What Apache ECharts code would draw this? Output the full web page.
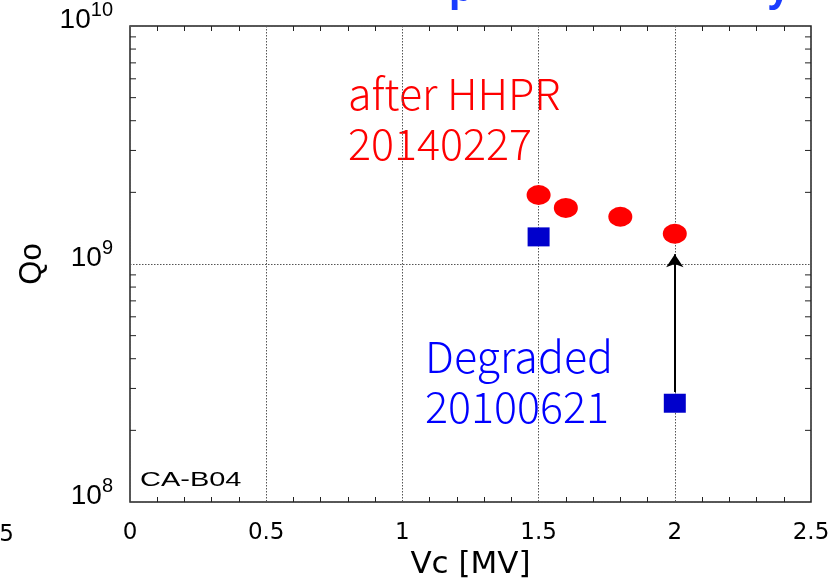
<!DOCTYPE html>
<html>
<head>
<meta charset="utf-8">
<script src="https://cdn.jsdelivr.net/npm/echarts@6/dist/echarts.min.js"></script>
<style>
html,body{margin:0;padding:0;background:#fff;}
#chart{width:834px;height:587px;}
</style>
</head>
<body>
<div id="chart"></div>
<script>
// ---- data ----
var afterX = [1.5, 1.6, 1.8, 2.0];
var afterQ = [1.95e9, 1.72e9, 1.58e9, 1.34e9];
var degradedX = [1.5, 2.0];
var degradedQ = [1.30e9, 2.6e8];
var arrowFrom = [2.0, 2.9e8];
var arrowTo = [2.0, 1.1e9];
var yMinorTicks = [2e8,3e8,4e8,5e8,6e8,7e8,8e8,9e8,2e9,3e9,4e9,5e9,6e9,7e9,8e9,9e9];
var xTickLabels = ['0', '0.5', '1', '1.5', '2', '2.5'];

var chart = echarts.init(document.getElementById('chart'), null, {renderer: 'canvas'});

function pairs(xs, ys){ return xs.map(function(x,i){ return [x, ys[i]]; }); }

var tickFont = 'DejaVu Sans';
var annFont = '300 43px "Noto Sans CJK JP"';
var option = {
  animation: false,
  backgroundColor: '#fff',
  grid: {left: 130, right: 23, top: 26, bottom: 85, show: true, borderColor: '#222', borderWidth: 1.5, backgroundColor: 'transparent'},
  xAxis: [{
    type: 'value', min: 0, max: 2.5, interval: 0.5, position: 'bottom',
    axisLine: {show: false},
    axisTick: {show: false, inside: true},
    minorTick: {show: true, splitNumber: 5, length: 5, lineStyle: {color: '#222', width: 1}},
    splitLine: {show: true, lineStyle: {color: '#555', type: [1.5, 1.5], width: 1}},
    axisLabel: {
      margin: 20, color: '#000', fontFamily: tickFont, fontSize: 23,
      formatter: function(v){ var i = Math.round(v/0.5); return xTickLabels[i] !== undefined ? xTickLabels[i] : ''; }
    },
    name: 'Vc [MV]', nameLocation: 'middle', nameGap: 46,
    nameTextStyle: {color: '#000', fontFamily: tickFont, fontSize: 31}
  }, {
    type: 'value', min: 0, max: 2.5, interval: 0.5, position: 'top',
    axisLine: {show: false},
    axisTick: {show: false, inside: true},
    minorTick: {show: true, splitNumber: 5, length: 5, lineStyle: {color: '#222', width: 1}},
    splitLine: {show: false},
    axisLabel: {show: false}
  }],
  yAxis: [{
    type: 'log', logBase: 10, min: 1e8, max: 1e10,
    axisLine: {show: false},
    axisTick: {show: false},
    splitLine: {show: true, lineStyle: {color: '#555', type: [1.5, 1.5], width: 1}},
    axisLabel: {
      margin: 17, color: '#000', padding: [0, 0, 12, 0],
      fontFamily: 'Liberation Sans', fontSize: 28,
      formatter: function(v){ var e = Math.round(Math.log10(v)); return '{b|10}{s|' + e + '}'; },
      rich: {
        b: {fontFamily: 'Liberation Sans', fontSize: 28, lineHeight: 28, verticalAlign: 'bottom', color: '#000'},
        s: {fontFamily: 'Liberation Sans', fontSize: 20, lineHeight: 20, padding: [0, 0, 14, 0], verticalAlign: 'bottom', color: '#000'}
      }
    },
    name: 'Qo', nameLocation: 'middle', nameGap: 82, nameRotate: 90,
    nameTextStyle: {color: '#000', fontFamily: 'Liberation Sans', fontSize: 31}
  }],
  series: [{
    type: 'custom', name: 'yminor', silent: true, clip: false,
    data: yMinorTicks.map(function(v){ return [0, v]; }),
    renderItem: function(params, api){
      var cs = params.coordSys;
      var p = api.coord([0, api.value(1)]);
      var len = 6;
      return {type: 'group', children: [
        {type: 'line', shape: {x1: cs.x, y1: p[1], x2: cs.x + len, y2: p[1]}, style: {stroke: '#222', lineWidth: 1}},
        {type: 'line', shape: {x1: cs.x + cs.width - len, y1: p[1], x2: cs.x + cs.width, y2: p[1]}, style: {stroke: '#222', lineWidth: 1}}
      ]};
    },
    z: 1
  }, {
    type: 'scatter', name: 'after HHPR', data: pairs(afterX, afterQ),
    symbol: 'circle', symbolSize: [24, 20],
    itemStyle: {color: '#ff0000', opacity: 1}, z: 5, silent: true
  }, {
    type: 'scatter', name: 'Degraded', data: pairs(degradedX, degradedQ),
    symbol: 'rect', symbolSize: [22, 19],
    itemStyle: {color: '#0000cc', opacity: 1}, z: 5, silent: true,
    markLine: {
      silent: true, animation: false,
      symbol: ['none', 'arrow'], symbolSize: 13,
      label: {show: false},
      lineStyle: {color: '#000', width: 2, type: 'solid', opacity: 1},
      emphasis: {disabled: true},
      data: [[{coord: arrowFrom}, {coord: arrowTo}]]
    }
  }],
  graphic: [
    {type: 'text', x: 348, y: 94, style: {text: 'after HHPR', font: annFont, fill: '#ff0000', verticalAlign: 'middle'}},
    {type: 'text', x: 348, y: 144, style: {text: '20140227', font: annFont, fill: '#ff0000', verticalAlign: 'middle'}},
    {type: 'text', x: 425, y: 357, style: {text: 'Degraded', font: annFont, fill: '#0000ff', verticalAlign: 'middle'}},
    {type: 'text', x: 425, y: 407, style: {text: '20100621', font: annFont, fill: '#0000ff', verticalAlign: 'middle'}},
    {type: 'text', x: 140, y: 480, scaleX: 1.38, style: {text: 'CA-B04', font: '21px "Liberation Sans"', fill: '#000', verticalAlign: 'middle'}},
    {type: 'text', x: 14, y: 535, style: {text: '-0.5', font: '23px "DejaVu Sans"', fill: '#000', align: 'right', verticalAlign: 'middle'}},
    {type: 'text', x: 449, y: 9, style: {text: 'p', font: 'bold 38px "Noto Sans"', fill: '#1a3cff', verticalAlign: 'bottom'}},
    {type: 'text', x: 768, y: 9, style: {text: 'y', font: 'bold 38px "Noto Sans"', fill: '#1a3cff', verticalAlign: 'bottom'}}
  ]
};
chart.setOption(option);
</script>
</body>
</html>
